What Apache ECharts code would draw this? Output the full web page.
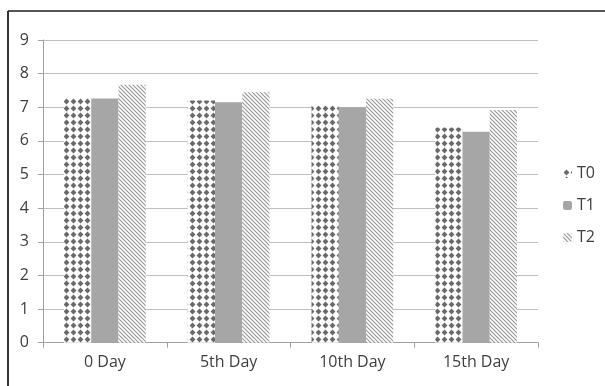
<!DOCTYPE html>
<html>
<head>
<meta charset="utf-8">
<script src="https://cdn.jsdelivr.net/npm/echarts@6/dist/echarts.min.js"></script>
<style>
  html, body { margin: 0; padding: 0; background: #fff; }
  #chart { width: 605px; height: 386px; }
</style>
</head>
<body>
<div id="chart"></div>
<script>
// data
var days = ['0 Day', '5th Day', '10th Day', '15th Day'];
var t0 = [7.27, 7.2, 7.05, 6.4];
var t1 = [7.26, 7.15, 7.0, 6.27];
var t2 = [7.67, 7.45, 7.25, 6.92];
var seriesNames = ['T0', 'T1', 'T2'];

// dotted diamond fill
function dotPattern() {
    var c = document.createElement('canvas');
    c.width = 7; c.height = 7;
    var ctx = c.getContext('2d');
    ctx.fillStyle = '#ffffff';
    ctx.fillRect(0, 0, 7, 7);
    ctx.fillStyle = '#6a6a6a';
    ctx.beginPath();
    ctx.moveTo(3.5, 0.6);
    ctx.lineTo(6.4, 3.5);
    ctx.lineTo(3.5, 6.4);
    ctx.lineTo(0.6, 3.5);
    ctx.closePath();
    ctx.fill();
    return c;
}

// diagonal stripes fill
function stripePattern() {
    var c = document.createElement('canvas');
    c.width = 4; c.height = 4;
    var ctx = c.getContext('2d');
    ctx.fillStyle = '#ffffff';
    ctx.fillRect(0, 0, 4, 4);
    ctx.strokeStyle = '#9a9a9a';
    ctx.lineWidth = 1.2;
    ctx.beginPath();
    ctx.moveTo(-1, -1); ctx.lineTo(5, 5);
    ctx.moveTo(-1, 3); ctx.lineTo(1, 5);
    ctx.moveTo(3, -1); ctx.lineTo(5, 1);
    ctx.stroke();
    return c;
}

var fills = [
    { image: dotPattern(), repeat: 'repeat' },
    '#a6a6a6',
    { image: stripePattern(), repeat: 'repeat' }
];

var chart = echarts.init(document.getElementById('chart'));
chart.setOption({
    animation: false,
    textStyle: { fontFamily: 'Open Sans' },
    grid: { left: 43, right: 67, top: 40, bottom: 43.3 },
    legend: {
        orient: 'vertical',
        left: 558,
        top: 159,
        itemGap: 13,
        itemWidth: 9,
        itemHeight: 9,
        textStyle: { fontSize: 16, color: '#404040', lineHeight: 19 },
        data: seriesNames
    },
    xAxis: {
        type: 'category',
        data: days,
        axisLine: { lineStyle: { color: '#a0a0a0' } },
        axisTick: { show: true, length: 5, lineStyle: { color: '#a0a0a0' } },
        axisLabel: { fontSize: 16, color: '#404040', margin: 12 }
    },
    yAxis: {
        type: 'value',
        min: 0,
        max: 9,
        interval: 1,
        axisLine: { show: true, lineStyle: { color: '#a0a0a0' } },
        axisTick: { show: true, length: 5, lineStyle: { color: '#a0a0a0' } },
        axisLabel: { fontSize: 16, color: '#404040', margin: 14 },
        splitLine: { lineStyle: { color: '#c0c0c0' } }
    },
    graphic: [
        { type: 'line', shape: { x1: 8, y1: 11, x2: 605, y2: 11 }, style: { stroke: '#555', lineWidth: 2 } },
        { type: 'line', shape: { x1: 8, y1: 11, x2: 8, y2: 386 }, style: { stroke: '#333', lineWidth: 2 } }
    ],
    series: [
        { name: 'T0', type: 'bar', data: t0, barGap: 0, barCategoryGap: '34%', itemStyle: { color: fills[0] } },
        { name: 'T1', type: 'bar', data: t1, itemStyle: { color: fills[1] } },
        { name: 'T2', type: 'bar', data: t2, itemStyle: { color: fills[2] } }
    ]
});
</script>
</body>
</html>
